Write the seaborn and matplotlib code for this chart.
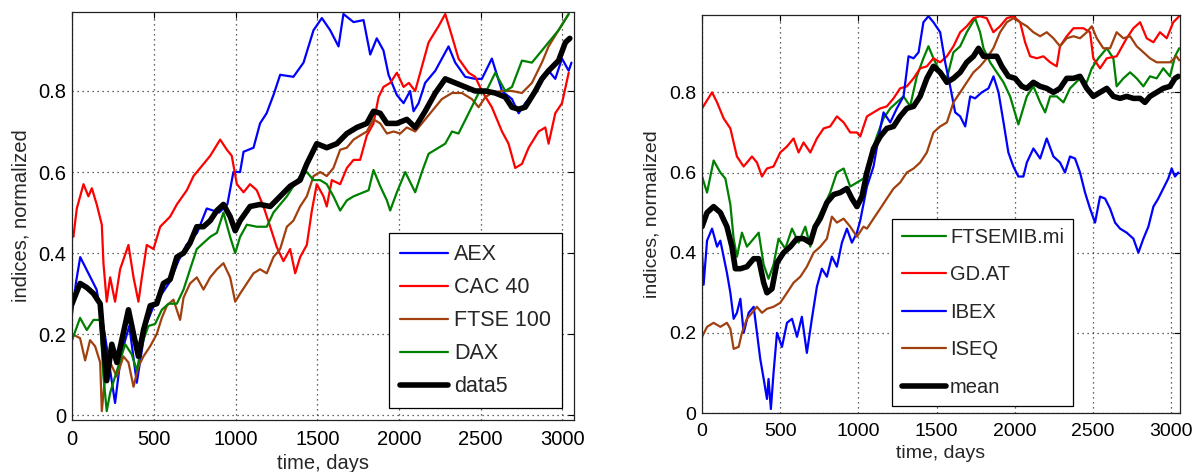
import matplotlib
matplotlib.use("Agg")
import matplotlib.pyplot as plt
import seaborn as sns
import pandas as pd

# ---------------- data: left panel ----------------
aex_days = [0, 25, 50, 100, 150, 200, 263, 300, 350, 396, 450, 500, 550, 600, 650, 700, 765, 824, 900, 950, 987, 1028, 1049, 1110, 1150, 1190, 1232, 1273, 1354, 1416, 1477, 1528, 1579, 1630, 1660, 1722, 1783, 1824, 1864, 1905, 1936, 1987, 2028, 2068, 2089, 2120, 2160, 2222, 2303, 2344, 2405, 2466, 2507, 2568, 2630, 2691, 2732, 2772, 2854, 2915, 2956, 2997, 3038, 3055]
aex_vals = [0.25, 0.33, 0.39, 0.35, 0.31, 0.20, 0.03, 0.15, 0.22, 0.08, 0.22, 0.27, 0.30, 0.33, 0.38, 0.42, 0.45, 0.51, 0.50, 0.52, 0.60, 0.60, 0.65, 0.66, 0.72, 0.745, 0.79, 0.84, 0.835, 0.87, 0.95, 0.98, 0.95, 0.91, 0.99, 0.97, 0.975, 0.89, 0.93, 0.90, 0.84, 0.79, 0.77, 0.80, 0.75, 0.77, 0.82, 0.85, 0.91, 0.87, 0.835, 0.83, 0.83, 0.88, 0.80, 0.78, 0.745, 0.77, 0.81, 0.85, 0.83, 0.88, 0.85, 0.87]

cac_days = [0, 8, 29, 70, 100, 121, 151, 182, 192, 212, 233, 263, 294, 345, 376, 406, 427, 457, 498, 539, 600, 641, 702, 743, 784, 845, 906, 947, 977, 1008, 1049, 1089, 1130, 1171, 1212, 1252, 1293, 1334, 1365, 1395, 1436, 1467, 1497, 1538, 1558, 1589, 1640, 1681, 1722, 1762, 1803, 1844, 1875, 1905, 1946, 1987, 2028, 2060, 2099, 2140, 2181, 2242, 2283, 2324, 2364, 2426, 2466, 2507, 2568, 2630, 2670, 2711, 2752, 2793, 2854, 2895, 2915, 2956, 2997, 3038]
cac_vals = [0.45, 0.44, 0.51, 0.57, 0.54, 0.56, 0.52, 0.47, 0.375, 0.28, 0.34, 0.28, 0.36, 0.42, 0.34, 0.28, 0.34, 0.42, 0.41, 0.465, 0.49, 0.52, 0.555, 0.59, 0.61, 0.64, 0.68, 0.655, 0.64, 0.57, 0.55, 0.57, 0.555, 0.515, 0.465, 0.415, 0.38, 0.41, 0.35, 0.39, 0.42, 0.505, 0.57, 0.54, 0.515, 0.58, 0.57, 0.61, 0.63, 0.63, 0.69, 0.72, 0.785, 0.81, 0.82, 0.845, 0.81, 0.82, 0.80, 0.86, 0.92, 0.96, 0.99, 0.935, 0.88, 0.845, 0.835, 0.80, 0.76, 0.70, 0.67, 0.61, 0.62, 0.66, 0.70, 0.71, 0.67, 0.745, 0.77, 0.845]

ftse_days = [0, 49, 80, 110, 141, 172, 182, 202, 233, 274, 314, 345, 376, 406, 437, 478, 518, 549, 580, 620, 661, 682, 722, 763, 804, 845, 886, 926, 967, 998, 1028, 1069, 1110, 1150, 1191, 1232, 1273, 1314, 1354, 1395, 1436, 1477, 1518, 1558, 1599, 1640, 1681, 1722, 1762, 1803, 1844, 1885, 1926, 1967, 2007, 2048, 2099, 2140, 2201, 2262, 2324, 2385, 2446, 2487, 2528, 2568, 2630, 2691, 2752, 2813, 2874, 2915, 2976, 3038]
ftse_vals = [0.20, 0.19, 0.135, 0.185, 0.17, 0.13, 0.01, 0.095, 0.13, 0.095, 0.145, 0.13, 0.07, 0.12, 0.145, 0.17, 0.20, 0.24, 0.27, 0.285, 0.235, 0.29, 0.325, 0.34, 0.31, 0.34, 0.36, 0.375, 0.34, 0.28, 0.30, 0.325, 0.35, 0.36, 0.35, 0.39, 0.41, 0.465, 0.48, 0.515, 0.54, 0.59, 0.60, 0.59, 0.61, 0.655, 0.66, 0.68, 0.69, 0.70, 0.73, 0.72, 0.695, 0.70, 0.695, 0.71, 0.70, 0.72, 0.75, 0.78, 0.795, 0.795, 0.78, 0.76, 0.785, 0.795, 0.80, 0.80, 0.795, 0.82, 0.87, 0.91, 0.95, 0.99]

dax_days = [0, 49, 90, 131, 172, 192, 212, 233, 263, 294, 325, 365, 396, 427, 467, 508, 549, 590, 641, 682, 722, 763, 804, 845, 886, 926, 967, 998, 1028, 1069, 1130, 1191, 1232, 1273, 1314, 1354, 1395, 1436, 1477, 1518, 1558, 1599, 1640, 1681, 1722, 1783, 1814, 1844, 1885, 1926, 1946, 1987, 2038, 2099, 2140, 2181, 2242, 2283, 2324, 2364, 2426, 2487, 2528, 2589, 2650, 2691, 2752, 2813, 2854, 2915, 2976, 3038]
dax_vals = [0.185, 0.24, 0.21, 0.235, 0.235, 0.095, 0.01, 0.055, 0.095, 0.135, 0.175, 0.15, 0.11, 0.175, 0.22, 0.225, 0.26, 0.275, 0.275, 0.31, 0.36, 0.41, 0.425, 0.44, 0.45, 0.50, 0.44, 0.40, 0.44, 0.47, 0.465, 0.465, 0.50, 0.52, 0.54, 0.565, 0.59, 0.60, 0.58, 0.58, 0.57, 0.54, 0.505, 0.53, 0.54, 0.55, 0.555, 0.605, 0.565, 0.53, 0.505, 0.55, 0.60, 0.55, 0.60, 0.645, 0.66, 0.67, 0.70, 0.695, 0.745, 0.795, 0.795, 0.845, 0.80, 0.81, 0.875, 0.87, 0.89, 0.92, 0.95, 0.99]

data5_days = [0, 49, 90, 131, 172, 192, 212, 243, 274, 304, 345, 376, 406, 437, 478, 518, 559, 600, 641, 682, 722, 763, 804, 845, 886, 926, 967, 998, 1028, 1089, 1150, 1212, 1273, 1334, 1395, 1436, 1497, 1558, 1620, 1681, 1742, 1803, 1844, 1885, 1926, 1987, 2048, 2099, 2160, 2222, 2283, 2344, 2405, 2466, 2528, 2589, 2650, 2691, 2732, 2772, 2834, 2874, 2915, 2976, 3018, 3045]
data5_vals = [0.275, 0.325, 0.315, 0.30, 0.275, 0.175, 0.085, 0.175, 0.13, 0.185, 0.26, 0.20, 0.145, 0.21, 0.27, 0.275, 0.325, 0.335, 0.39, 0.40, 0.425, 0.465, 0.465, 0.48, 0.505, 0.52, 0.49, 0.455, 0.48, 0.515, 0.52, 0.515, 0.54, 0.565, 0.58, 0.62, 0.67, 0.66, 0.67, 0.695, 0.71, 0.72, 0.75, 0.745, 0.72, 0.72, 0.73, 0.71, 0.75, 0.795, 0.83, 0.82, 0.81, 0.80, 0.80, 0.795, 0.785, 0.76, 0.755, 0.76, 0.80, 0.83, 0.85, 0.875, 0.92, 0.93]

# ---------------- data: right panel ----------------
mib_days = [0, 32, 74, 117, 149, 181, 202, 223, 255, 287, 330, 362, 394, 425, 457, 489, 532, 575, 617, 660, 692, 734, 777, 819, 862, 905, 947, 990, 1032, 1075, 1117, 1160, 1203, 1245, 1288, 1330, 1373, 1415, 1447, 1479, 1522, 1565, 1607, 1650, 1692, 1745, 1777, 1799, 1841, 1884, 1927, 1969, 2022, 2076, 2118, 2161, 2193, 2225, 2267, 2310, 2352, 2416, 2459, 2491, 2533, 2587, 2629, 2650, 2693, 2736, 2778, 2821, 2863, 2906, 2948, 2991, 3023, 3050]
mib_vals = [0.59, 0.55, 0.63, 0.60, 0.585, 0.52, 0.435, 0.39, 0.45, 0.415, 0.435, 0.45, 0.37, 0.335, 0.37, 0.435, 0.41, 0.46, 0.425, 0.465, 0.415, 0.48, 0.515, 0.55, 0.60, 0.61, 0.565, 0.575, 0.585, 0.64, 0.69, 0.735, 0.76, 0.775, 0.79, 0.765, 0.84, 0.885, 0.915, 0.885, 0.85, 0.835, 0.90, 0.915, 0.95, 0.985, 0.95, 0.91, 0.875, 0.85, 0.825, 0.79, 0.72, 0.79, 0.815, 0.775, 0.75, 0.79, 0.79, 0.775, 0.81, 0.835, 0.825, 0.86, 0.885, 0.91, 0.885, 0.815, 0.835, 0.85, 0.835, 0.815, 0.84, 0.835, 0.86, 0.84, 0.89, 0.91]

gd_days = [0, 32, 64, 96, 138, 181, 202, 223, 266, 319, 351, 383, 415, 457, 500, 543, 585, 617, 649, 692, 734, 777, 819, 862, 905, 947, 990, 1011, 1054, 1096, 1139, 1181, 1224, 1266, 1309, 1352, 1394, 1437, 1479, 1522, 1565, 1607, 1650, 1692, 1735, 1777, 1820, 1862, 1905, 1948, 1990, 2033, 2065, 2097, 2140, 2182, 2225, 2267, 2288, 2331, 2374, 2437, 2480, 2501, 2544, 2587, 2650, 2714, 2757, 2800, 2842, 2885, 2927, 2970, 3012, 3050]
gd_vals = [0.76, 0.78, 0.80, 0.775, 0.735, 0.71, 0.675, 0.64, 0.615, 0.64, 0.625, 0.59, 0.61, 0.615, 0.65, 0.665, 0.685, 0.65, 0.675, 0.65, 0.685, 0.71, 0.715, 0.74, 0.725, 0.70, 0.70, 0.69, 0.74, 0.75, 0.76, 0.765, 0.785, 0.81, 0.815, 0.835, 0.86, 0.865, 0.885, 0.875, 0.89, 0.915, 0.95, 0.965, 0.985, 0.99, 0.985, 0.95, 0.965, 0.985, 0.99, 0.975, 0.925, 0.89, 0.885, 0.89, 0.875, 0.865, 0.915, 0.94, 0.96, 0.96, 0.95, 0.885, 0.86, 0.885, 0.89, 0.935, 0.96, 0.975, 0.935, 0.925, 0.95, 0.935, 0.975, 0.99]

ibex_days = [0, 10, 32, 64, 96, 117, 138, 159, 181, 202, 223, 245, 266, 298, 330, 351, 372, 394, 415, 425, 440, 457, 479, 511, 543, 575, 607, 638, 670, 702, 734, 766, 798, 830, 862, 894, 926, 958, 990, 1011, 1054, 1096, 1139, 1160, 1203, 1245, 1288, 1320, 1352, 1384, 1415, 1447, 1479, 1522, 1554, 1586, 1618, 1650, 1682, 1714, 1745, 1788, 1831, 1863, 1895, 1927, 1958, 1990, 2022, 2054, 2076, 2118, 2161, 2203, 2246, 2288, 2320, 2352, 2384, 2416, 2448, 2480, 2512, 2544, 2576, 2608, 2640, 2672, 2714, 2757, 2789, 2821, 2853, 2885, 2916, 2948, 2980, 3002, 3023, 3044]
ibex_vals = [0.40, 0.32, 0.43, 0.46, 0.415, 0.43, 0.39, 0.35, 0.30, 0.235, 0.25, 0.285, 0.20, 0.25, 0.265, 0.20, 0.135, 0.085, 0.035, 0.085, 0.01, 0.10, 0.20, 0.165, 0.225, 0.235, 0.19, 0.24, 0.15, 0.235, 0.315, 0.36, 0.34, 0.39, 0.365, 0.425, 0.46, 0.425, 0.45, 0.48, 0.565, 0.615, 0.71, 0.75, 0.725, 0.76, 0.79, 0.89, 0.885, 0.90, 0.975, 0.99, 0.975, 0.95, 0.875, 0.815, 0.75, 0.74, 0.715, 0.79, 0.785, 0.80, 0.81, 0.84, 0.80, 0.725, 0.65, 0.615, 0.59, 0.59, 0.625, 0.66, 0.635, 0.685, 0.64, 0.625, 0.60, 0.64, 0.635, 0.60, 0.55, 0.51, 0.475, 0.54, 0.535, 0.51, 0.475, 0.46, 0.45, 0.435, 0.40, 0.435, 0.465, 0.515, 0.535, 0.56, 0.585, 0.61, 0.59, 0.60]

iseq_days = [0, 32, 74, 117, 159, 181, 202, 234, 255, 287, 319, 351, 383, 415, 457, 500, 543, 585, 628, 670, 713, 756, 798, 830, 862, 905, 947, 990, 1032, 1054, 1096, 1139, 1181, 1224, 1266, 1309, 1352, 1394, 1437, 1479, 1522, 1565, 1607, 1650, 1692, 1735, 1777, 1820, 1862, 1905, 1948, 1990, 2033, 2076, 2118, 2161, 2203, 2246, 2288, 2331, 2374, 2416, 2459, 2491, 2523, 2565, 2608, 2650, 2693, 2736, 2778, 2821, 2863, 2906, 2948, 2991, 3033, 3050]
iseq_vals = [0.19, 0.215, 0.225, 0.215, 0.225, 0.21, 0.16, 0.165, 0.20, 0.235, 0.25, 0.265, 0.25, 0.26, 0.265, 0.275, 0.30, 0.325, 0.34, 0.365, 0.40, 0.415, 0.435, 0.49, 0.475, 0.485, 0.465, 0.44, 0.465, 0.46, 0.485, 0.51, 0.535, 0.56, 0.575, 0.60, 0.61, 0.625, 0.65, 0.70, 0.715, 0.725, 0.775, 0.80, 0.825, 0.85, 0.865, 0.885, 0.91, 0.95, 0.975, 0.985, 0.975, 0.965, 0.95, 0.94, 0.95, 0.935, 0.915, 0.935, 0.94, 0.935, 0.95, 0.965, 0.935, 0.91, 0.91, 0.95, 0.935, 0.94, 0.915, 0.90, 0.885, 0.875, 0.875, 0.875, 0.89, 0.88]

mean_days = [0, 32, 74, 117, 159, 191, 213, 245, 287, 330, 362, 394, 415, 447, 479, 521, 564, 607, 649, 692, 723, 755, 798, 841, 883, 926, 958, 990, 1022, 1054, 1096, 1139, 1181, 1224, 1266, 1309, 1352, 1394, 1437, 1479, 1522, 1565, 1607, 1650, 1692, 1735, 1767, 1799, 1841, 1884, 1916, 1958, 2001, 2044, 2076, 2118, 2161, 2203, 2246, 2288, 2331, 2374, 2416, 2459, 2501, 2544, 2587, 2629, 2672, 2714, 2757, 2800, 2831, 2863, 2906, 2948, 2991, 3023, 3044]
mean_vals = [0.465, 0.50, 0.515, 0.50, 0.465, 0.415, 0.36, 0.36, 0.365, 0.385, 0.385, 0.325, 0.30, 0.31, 0.375, 0.40, 0.415, 0.435, 0.435, 0.425, 0.465, 0.485, 0.525, 0.545, 0.55, 0.56, 0.535, 0.515, 0.54, 0.60, 0.66, 0.69, 0.71, 0.715, 0.74, 0.76, 0.765, 0.79, 0.835, 0.865, 0.85, 0.825, 0.835, 0.85, 0.875, 0.89, 0.91, 0.89, 0.89, 0.89, 0.865, 0.84, 0.835, 0.815, 0.81, 0.825, 0.815, 0.81, 0.80, 0.81, 0.835, 0.835, 0.84, 0.81, 0.79, 0.80, 0.81, 0.79, 0.785, 0.79, 0.785, 0.785, 0.775, 0.79, 0.80, 0.81, 0.815, 0.835, 0.84]

x_ticks = [0, 500, 1000, 1500, 2000, 2500, 3000]
y_ticks = [0, 0.2, 0.4, 0.6, 0.8]
y_ticklabels = ["0", "0.2", "0.4", "0.6", "0.8"]
x_label = "time, days"
y_label = "indices, normalized"

BLUE, RED, BROWN, GREEN, BLACK = "#0000FF", "#FF0000", "#A0400F", "#008000", "#000000"

left_series = [
    ("AEX", aex_days, aex_vals, BLUE, 1.6),
    ("CAC 40", cac_days, cac_vals, RED, 1.6),
    ("FTSE 100", ftse_days, ftse_vals, BROWN, 1.6),
    ("DAX", dax_days, dax_vals, GREEN, 1.6),
    ("data5", data5_days, data5_vals, BLACK, 4.0),
]
right_series = [
    ("FTSEMIB.mi", mib_days, mib_vals, GREEN, 1.6),
    ("GD.AT", gd_days, gd_vals, RED, 1.6),
    ("IBEX", ibex_days, ibex_vals, BLUE, 1.6),
    ("ISEQ", iseq_days, iseq_vals, BROWN, 1.6),
    ("mean", mean_days, mean_vals, BLACK, 4.0),
]

sns.set_style("white")
plt.rcParams["font.family"] = ["Liberation Sans", "DejaVu Sans"]

fig = plt.figure(figsize=(11.97, 4.72), dpi=100)
ax1 = fig.add_axes([0.0602, 0.1102, 0.4194, 0.8644])
ax2 = fig.add_axes([0.5865, 0.1250, 0.3993, 0.8432])


def draw(ax, series, xlim, ylim, tick_fs, leg_fs, xlabelpad, leg_anchor,
         labelspacing, handlelength, handletextpad, borderpad):
    for name, d, v, c, lw in series:
        df = pd.DataFrame({"day": d, "value": v})
        sns.lineplot(data=df, x="day", y="value", ax=ax, color=c, linewidth=lw,
                     label=name, estimator=None, errorbar=None, sort=False)
    ax.set_xlim(*xlim)
    ax.set_ylim(*ylim)
    ax.set_xticks(x_ticks)
    ax.set_xticklabels([str(t) for t in x_ticks])
    ax.set_yticks(y_ticks)
    ax.set_yticklabels(y_ticklabels)
    ax.grid(True, linestyle=(0, (1, 3)), color="#333333", linewidth=0.9)
    ax.tick_params(direction="in", top=True, right=True, length=4, width=0.8,
                   labelsize=tick_fs, colors="k", pad=4)
    ax.tick_params(axis="x", pad=7)
    for s in ax.spines.values():
        s.set_color("#222222")
        s.set_linewidth(0.9)
    ax.set_xlabel(x_label, fontsize=tick_fs, labelpad=xlabelpad)
    ax.set_ylabel(y_label, fontsize=tick_fs, labelpad=6)
    leg = ax.legend(loc="lower right", bbox_to_anchor=leg_anchor, borderaxespad=0,
                    fontsize=leg_fs, frameon=True, fancybox=False, framealpha=1,
                    edgecolor="k", labelspacing=labelspacing,
                    handlelength=handlelength, handletextpad=handletextpad,
                    borderpad=borderpad)
    leg.get_frame().set_linewidth(0.9)


draw(ax1, left_series, (0, 3071), (-0.012, 0.995), 14.5, 15.5, 4,
     (0.976, 0.029), 0.56, 2.23, 0.28, 0.5)
draw(ax2, right_series, (0, 3055), (0, 0.993), 14.0, 14.5, 4,
     (0.776, 0.018), 0.92, 2.2, 0.2, 0.45)

fig.savefig("out.png", dpi=100)
